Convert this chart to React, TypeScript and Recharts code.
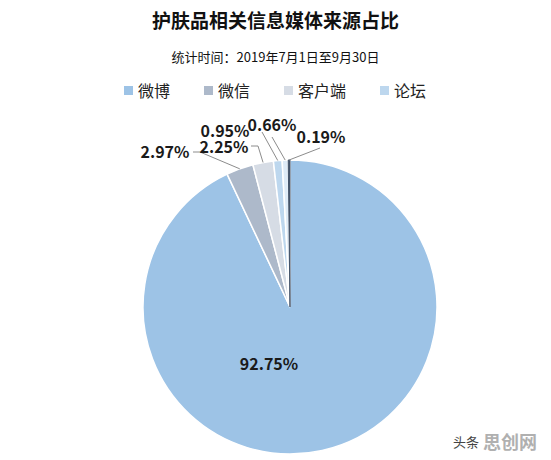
import React from "react";
import { PieChart, Pie, Cell } from "recharts";

const names = ["微博", "微信", "客户端", "论坛", "新闻", "其他"];
const shares = [92.75, 2.97, 2.25, 0.95, 0.66, 0.19];
const legendNames = ["微博", "微信", "客户端", "论坛"];

const colors = ["#9dc3e6", "#adb9ca", "#d6dce5", "#bdd7ee", "#deebf7", "#44546a"];

const data = names.map((n, i) => ({ name: n, value: shares[i] }));

// label text centres + leader line points (before the slice edge)
const labelLayout = [
  { x: 269, y: 363, pts: [] as number[][] },
  { x: 165, y: 151, pts: [[193, 152], [200, 152]] },
  { x: 224, y: 146, pts: [[251, 146], [258, 146]] },
  { x: 225, y: 130, pts: [[262, 132]] },
  { x: 272, y: 124, pts: [[272, 137]] },
  { x: 321, y: 136, pts: [[320, 148]] },
];

const font = "'Noto Sans CJK SC', 'Noto Sans', sans-serif";
const RAD = Math.PI / 180;

function renderLabel(props: any) {
  const { cx, cy, midAngle, outerRadius, index } = props;
  const lay = labelLayout[index];
  const ax = cx + outerRadius * Math.cos(-midAngle * RAD);
  const ay = cy + outerRadius * Math.sin(-midAngle * RAD);
  const points = [...lay.pts, [ax, ay]];
  return (
    <g key={`lbl-${index}`}>
      {lay.pts.length > 0 && (
        <polyline
          points={points.map((p) => p.join(",")).join(" ")}
          fill="none"
          stroke="#8c8c8c"
          strokeWidth={1}
        />
      )}
      <text
        x={lay.x}
        y={lay.y}
        textAnchor="middle"
        dominantBaseline="central"
        fontSize={16}
        fontWeight={600}
        fill="#1a1a1a"
        fontFamily={font}
      >
        {shares[index].toFixed(2)}%
      </text>
    </g>
  );
}

export default function App() {
  return (
    <div
      style={{
        position: "absolute",
        left: 0,
        top: 0,
        width: 551,
        height: 460,
        background: "#fff",
        fontFamily: font,
      }}
    >
      <div
        style={{
          position: "absolute",
          left: 0,
          width: 551,
          top: 6,
          textAlign: "center",
          fontSize: 19,
          fontWeight: 700,
          color: "#111",
        }}
      >
        护肤品相关信息媒体来源占比
      </div>
      <div
        style={{
          position: "absolute",
          left: 0,
          width: 551,
          top: 47,
          textAlign: "center",
          fontSize: 13,
          color: "#111",
        }}
      >
        统计时间：2019年7月1日至9月30日
      </div>
      <div
        style={{
          position: "absolute",
          left: 124,
          top: 78,
          display: "flex",
          gap: 34,
          fontSize: 16,
          color: "#222",
        }}
      >
        {legendNames.map((n, i) => (
          <div key={n} style={{ display: "flex", alignItems: "center", gap: 5 }}>
            <span
              style={{
                display: "inline-block",
                width: 9,
                height: 9,
                background: colors[i],
              }}
            />
            <span>{n}</span>
          </div>
        ))}
      </div>
      <PieChart
        width={551}
        height={460}
        margin={{ top: 0, right: 0, bottom: 0, left: 0 }}
        style={{ position: "absolute", left: 0, top: 0 }}
      >
        <Pie
          data={data}
          dataKey="value"
          nameKey="name"
          cx={290}
          cy={307}
          outerRadius={147}
          startAngle={90}
          endAngle={-270}
          stroke="#fff"
          strokeWidth={1.5}
          label={renderLabel}
          labelLine={false}
          isAnimationActive={false}
        >
          {data.map((_, i) => (
            <Cell
              key={`cell-${i}`}
              fill={colors[i]}
              stroke={i === data.length - 1 ? colors[i] : "#fff"}
              strokeWidth={i === data.length - 1 ? 1 : 1.5}
            />
          ))}
        </Pie>
      </PieChart>
      <div
        style={{
          position: "absolute",
          left: 453,
          top: 428,
          display: "flex",
          alignItems: "center",
          gap: 4,
        }}
      >
        <span style={{ fontSize: 13, color: "#444" }}>头条</span>
        <span style={{ fontSize: 18, fontWeight: 700, color: "#b0b0b0" }}>思创网</span>
      </div>
    </div>
  );
}
